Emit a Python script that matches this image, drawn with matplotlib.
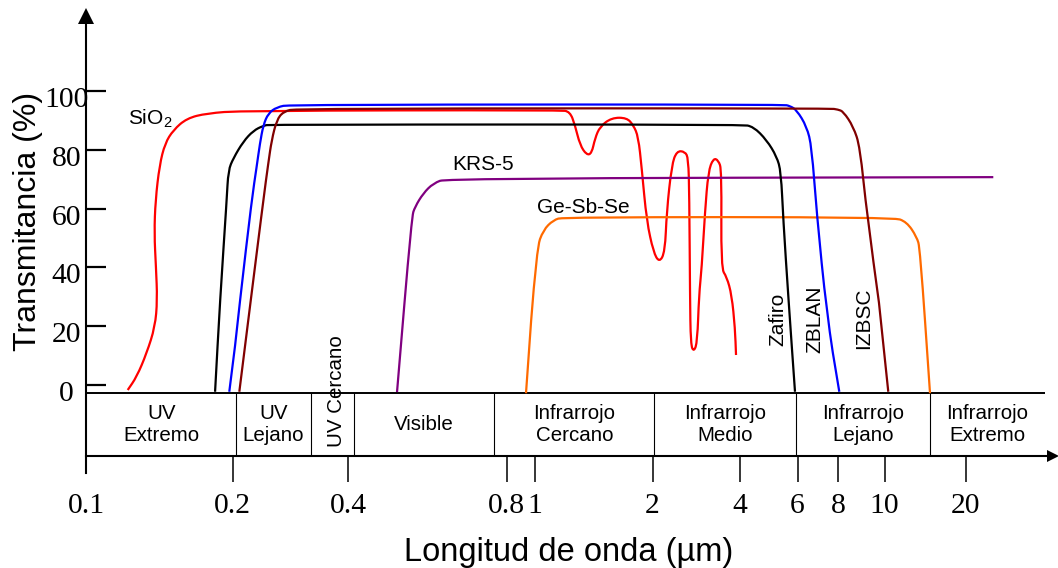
import numpy as np
import matplotlib
matplotlib.use('Agg')
import matplotlib.pyplot as plt
from matplotlib import transforms as mtrans
from matplotlib.path import Path
from matplotlib.patches import PathPatch

# ---------------- data ----------------
sio2_wl = [0.1216, 0.1269, 0.1330, 0.1384, 0.1399, 0.1390, 0.1379, 0.1387, 0.1414, 0.1451,
           0.1509, 0.1608, 0.1768, 0.2087, 1.159, 1.229, 1.266, 1.304, 1.357, 1.397,
           1.425, 1.467, 1.572, 1.718, 1.786, 1.839, 1.877, 1.933, 2.013, 2.111,
           2.208, 2.238, 2.329, 2.423, 2.587, 2.656, 2.677, 2.692, 2.707, 2.778,
           2.852, 2.891, 2.953, 3.031, 3.112, 3.237, 3.368, 3.460, 3.441, 3.600,
           3.746, 3.845, 3.876]
sio2_t = [-1.7, 2.8, 10.8, 19.8, 28.9, 40.2, 51.6, 62.9, 74.8, 82.2,
          86.7, 90.7, 92.4, 93.3, 93.5, 93.0, 88.4, 81.6, 78.2, 78.8,
          83.9, 87.9, 90.9, 90.9, 88.4, 84.5, 73.7, 55.5, 45.3, 41.6,
          45.3, 58.9, 74.8, 79.6, 79.4, 77.1, 64.6, 30.6, 13.6, 11.3,
          14.7, 30.6, 39.7, 58.9, 72.6, 77.1, 76.5, 73.1, 39.7, 36.8,
          30.6, 19.3, 10.2]

zafiro_wl = [0.1839, 0.1883, 0.1943, 0.1958, 0.2006, 0.2130, 0.2263, 0.2403, 0.2502,
             4.048, 4.393, 4.827, 5.179, 5.337, 5.425, 5.62, 5.891]
zafiro_t = [-2.3, 28.9, 62.9, 73.1, 77.1, 82.8, 86.5, 88.2, 88.6,
            88.6, 87.9, 83.3, 77.7, 72.6, 56.1, 30.0, -2.3]

zblan_wl = [0.1967, 0.2089, 0.2241, 0.2309, 0.2355, 0.2403, 0.2476, 0.2605, 0.2822,
            5.425, 5.689, 5.962, 6.402, 6.634, 6.874, 7.382, 8.05]
zblan_t = [-2.3, 28.9, 62.9, 74.3, 82.2, 88.4, 92.4, 94.5, 95.4,
           95.4, 94.9, 93.5, 87.9, 81.0, 58.4, 24.4, -2.3]

izbsc_wl = [0.208, 0.2403, 0.2476, 0.2527, 0.2605, 0.271, 0.2938,
            7.557, 8.0, 8.206, 8.608, 8.889, 9.179, 10.32]
izbsc_t = [-2.3, 62.9, 75.4, 83.3, 90.1, 93.0, 94.1,
           94.1, 93.7, 93.0, 87.9, 81.0, 58.4, -2.3]

krs5_wl = [0.4955, 0.5283, 0.536, 0.5557, 0.5805, 0.6156, 25.35]
krs5_t = [-2.4, 57.2, 60.6, 65.2, 68.6, 70.3, 70.7]

gesbse_wl = [0.9315, 1.010, 1.050, 1.114, 1.182, 10.77, 12.08, 13.16, 13.54, 14.75]
gesbse_t = [-2.8, 46.5, 52.7, 56.1, 57.1, 57.1, 55.5, 50.4, 46.5, -2.8]

x_ticks = [0.1, 0.2, 0.4, 0.8, 1, 2, 4, 6, 8, 10, 20]
x_tick_labels = ['0.1', '0.2', '0.4', '0.8', '1', '2', '4', '6', '8', '10', '20']
y_ticks = [0, 20, 40, 60, 80, 100]

band_edges = [0.1, 0.204, 0.32, 0.41, 0.758, 2.03, 5.94, 14.7, 39.5]
band_names = ['UV\nExtremo', 'UV\nLejano', 'UV Cercano', 'Visible',
              'Infrarrojo\nCercano', 'Infrarrojo\nMedio', 'Infrarrojo\nLejano',
              'Infrarrojo\nExtremo']

# ---------------- axis scale (hand-drawn, non-uniform log axis) ----------------
SCALE_WL = np.array([0.1, 0.2, 0.4, 0.8, 1, 2, 4, 6, 8, 10, 20])
SCALE_POS = np.array([86.4, 232.8, 348.0, 506.7, 535.0, 652.5, 740.0, 797.6, 838.0, 884.6, 965.6])
LA = np.log10(SCALE_WL)
S0 = (SCALE_POS[1] - SCALE_POS[0]) / (LA[1] - LA[0])
S1 = (SCALE_POS[-1] - SCALE_POS[-2]) / (LA[-1] - LA[-2])


def fwd(x):
    x = np.asarray(x, dtype=float)
    with np.errstate(divide='ignore', invalid='ignore'):
        lx = np.log10(np.where(x > 0, x, np.nan))
    out = np.interp(lx, LA, SCALE_POS)
    out = np.where(lx < LA[0], SCALE_POS[0] + (lx - LA[0]) * S0, out)
    out = np.where(lx > LA[-1], SCALE_POS[-1] + (lx - LA[-1]) * S1, out)
    return out


def inv(p):
    p = np.asarray(p, dtype=float)
    lx = np.interp(p, SCALE_POS, LA)
    lx = np.where(p < SCALE_POS[0], LA[0] + (p - SCALE_POS[0]) / S0, lx)
    lx = np.where(p > SCALE_POS[-1], LA[-1] + (p - SCALE_POS[-1]) / S1, lx)
    return 10 ** lx


def smooth_path(wl, t):
    wl = np.asarray(wl, float)
    t = np.asarray(t, float)
    lg = np.log10(wl)
    pts = np.column_stack([wl, t])

    def mid(i, j):
        return [10 ** ((lg[i] + lg[j]) / 2), (t[i] + t[j]) / 2]

    n = len(wl)
    verts = [pts[0]]
    codes = [Path.MOVETO]
    verts.append(mid(0, 1))
    codes.append(Path.LINETO)
    for i in range(1, n - 1):
        verts += [pts[i], mid(i, i + 1)]
        codes += [Path.CURVE3, Path.CURVE3]
    verts.append(pts[-1])
    codes.append(Path.LINETO)
    return Path(np.array(verts, float), codes)


# ---------------- figure ----------------
plt.rcParams['font.family'] = ['Liberation Sans', 'DejaVu Sans']
W, H = 1058, 568
fig = plt.figure(figsize=(W / 100, H / 100), dpi=100)
ax = fig.add_axes([0, 0, 1, 1])
ax.patch.set_alpha(0)
ax.set_xscale('function', functions=(fwd, inv))
ax.set_xlim(float(inv(0)), float(inv(W)))
Y_PER_PX = 1 / 2.94
ax.set_ylim((385 - H) * Y_PER_PX, 385 * Y_PER_PX)
ax.set_autoscale_on(False)

BAND_TOP = -2.62
BAND_BOTTOM = -24.15
AXIS_X0 = 0.1

# spines as axes lines
for s in ('top', 'right'):
    ax.spines[s].set_visible(False)
ax.spines['left'].set_position(('data', AXIS_X0))
ax.spines['left'].set_bounds(-29.9, 122.6)
ax.spines['left'].set_linewidth(1.5)
ax.spines['bottom'].set_position(('data', BAND_BOTTOM))
ax.spines['bottom'].set_bounds(AXIS_X0, 40.8)
ax.spines['bottom'].set_linewidth(1.5)

# arrow heads
ax.plot([AXIS_X0], [0.971], marker='^', ms=12.2, mew=0, color='black',
        transform=ax.get_xaxis_transform(), clip_on=False)
ax.plot([0.9953], [BAND_BOTTOM], marker='>', ms=9.0, mew=0, color='black',
        transform=ax.get_yaxis_transform(), clip_on=False)

# ticks
ax.set_xticks(x_ticks, labels=x_tick_labels)
ax.xaxis.set_minor_locator(matplotlib.ticker.NullLocator())
ax.tick_params(axis='x', direction='out', length=18.7, width=1.1, pad=8,
               labelsize=21.3, labelfontfamily='Liberation Serif')
ax.xaxis.get_major_ticks()[0].tick1line.set_visible(False)

ax.set_yticks(y_ticks)
ax.yaxis.set_minor_locator(matplotlib.ticker.NullLocator())
ax.tick_params(axis='y', direction='in', length=14.4, width=1.6, labelleft=False)
ylab_tr = mtrans.offset_copy(ax.transData, fig=fig, x=-20, y=-16, units='dots')
for v in y_ticks:
    ax.text(AXIS_X0, v, str(v), transform=ylab_tr, ha='center', va='baseline',
            fontfamily='Liberation Serif', fontsize=21.3)

# band of spectral regions
ax.hlines(BAND_TOP, band_edges[0], band_edges[-1], color='black', lw=1.4)
ax.vlines(band_edges[1:-1], BAND_BOTTOM, BAND_TOP, color='black', lw=0.8)
for a, b, name in zip(band_edges[:-1], band_edges[1:], band_names):
    xc = float(inv((fwd(a) + fwd(b)) / 2))
    if name == 'UV Cercano':
        xc = float(inv(fwd(xc) + 4))
        ax.text(xc, -2.0, name, rotation=90, ha='center', va='center', fontsize=14.8)
    else:
        ax.text(xc, (BAND_TOP + BAND_BOTTOM) / 2, name, ha='center', va='center',
                fontsize=14.8, multialignment='center')

# curves
curves = [
    (sio2_wl, sio2_t, '#ff0000', 2),
    (krs5_wl, krs5_t, '#800080', 3),
    (gesbse_wl, gesbse_t, '#ff6a00', 4),
    (zafiro_wl, zafiro_t, 'black', 5),
    (zblan_wl, zblan_t, '#0000ff', 6),
    (izbsc_wl, izbsc_t, '#800000', 7),
]
for wl, t, col, z in curves:
    patch = PathPatch(smooth_path(wl, t), facecolor='none', edgecolor=col, lw=1.6,
                      joinstyle='round', capstyle='butt', zorder=z, clip_on=False)
    ax.add_patch(patch)

# curve labels
ax.text(0.1218, 88.7, r'SiO$_\mathregular{2}$', ha='left', va='baseline', fontsize=15)
ax.text(0.632, 73.1, 'KRS-5', ha='left', va='baseline', fontsize=15)
ax.text(1.010, 58.6, 'Ge-Sb-Se', ha='left', va='baseline', fontsize=15)
ax.text(5.209, 22.4, 'Zafiro', rotation=90, ha='center', va='center', fontsize=15)
ax.text(6.806, 22.4, 'ZBLAN', rotation=90, ha='center', va='center', fontsize=15)
ax.text(9.03, 22.6, 'IZBSC', rotation=90, ha='center', va='center', fontsize=15)

# axis titles
fig.text(568.6 / W, 1 - 561.5 / H, 'Longitud de onda (µm)', ha='center', va='baseline',
         fontsize=23.5)
fig.text(28 / W, 1 - 221.5 / H, 'Transmitancia (%)', rotation=90, ha='center',
         va='center', fontsize=23)

fig.savefig('out.png', dpi=100)
